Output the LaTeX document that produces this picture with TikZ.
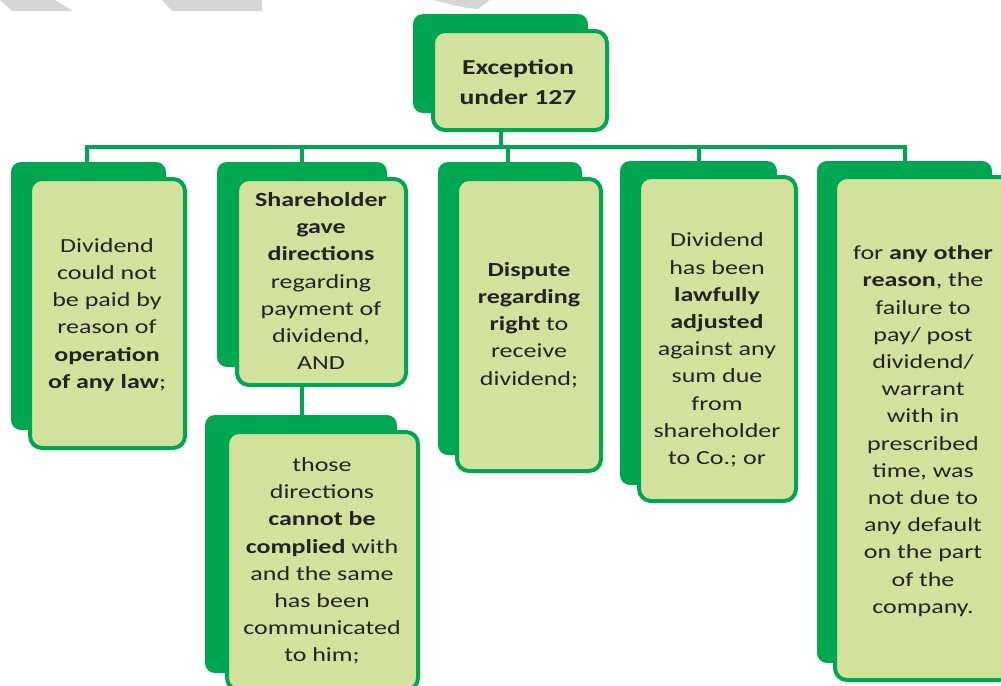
\documentclass[tikz,border=0pt]{standalone}
\usepackage{fontspec}
\setmainfont{Carlito}[FakeStretch=1.3]
\usetikzlibrary{fit}
\definecolor{dg}{RGB}{0,166,81}
\definecolor{lg}{RGB}{210,226,156}
\definecolor{txtc}{RGB}{38,34,36}
\definecolor{wm}{RGB}{214,214,214}
\tikzset{
  backbox/.style={fill=dg, draw=none, rounded corners=7.5pt, inner sep=0pt},
  frontbox/.style={fill=lg, draw=dg, line width=3pt, rounded corners=9pt, inner sep=0pt},
  boxtext/.style={align=center, text=txtc, font=\fontsize{15pt}{20.4pt}\selectfont, inner sep=0pt},
  toptext/.style={align=center, text=txtc, font=\fontsize{16pt}{23pt}\selectfont\bfseries, inner sep=0pt},
  conn/.style={draw=dg, line width=3pt},
  wmark/.style={fill=wm, draw=none},
}
\begin{document}
\begin{tikzpicture}[x=0.75pt, y=-0.75pt]
\useasboundingbox (0,0) rectangle (1001,686);
\clip (0,0) rectangle (1001,686);
% watermark fragments
\fill[wmark] (0,0) -- (55,0) -- (73,11) -- (12,11) -- cycle;
\fill[wmark] (162,0) -- (262,0) -- (262,11) -- (172,11) -- cycle;
\fill[wmark] (433,0) -- (490,0) -- (478,9) .. controls (465,8) .. (433,0) -- cycle;

% back boxes
\node[backbox, fit={(413,14) (588,113)}] (k0) {};
\node[backbox, fit={(11,162) (166,430)}] (k1) {};
\node[backbox, fit={(217,162) (387,367)}] (k2) {};
\node[backbox, fit={(205,415) (397,673)}] (k2b) {};
\node[backbox, fit={(438,162) (582,455)}] (k3) {};
\node[backbox, fit={(620,161) (777,485)}] (k4) {};
\node[backbox, fit={(817,161) (992,663)}] (k5) {};

% front boxes
\node[frontbox, fit={(433,31) (607,130)}] (f0) {};
\node[frontbox, fit={(30,179) (185,448)}] (f1) {};
\node[frontbox, fit={(237,179) (406,385)}] (f2) {};
\node[frontbox, fit={(227,432) (418,690)}] (f2b) {};
\node[frontbox, fit={(457,179) (601,471)}] (f3) {};
\node[frontbox, fit={(639,177) (796,501)}] (f4) {};
\node[frontbox, fit={(835,177) (1012,680)}] (f5) {};

% connectors
\coordinate (d0) at (501,147);
\coordinate (d1) at (87,147);
\coordinate (d2) at (302,147);
\coordinate (d3) at (508,147);
\coordinate (d4) at (699,147);
\coordinate (d5) at (905,147);
\draw[conn] (d0 |- f0.south) -- (d0);
\draw[conn] (d1 |- k1.north) -- (d1) -- (d5) -- (d5 |- k5.north);
\draw[conn] (d2) -- (d2 |- k2.north);
\draw[conn] (d3) -- (d3 |- k3.north);
\draw[conn] (d4) -- (d4 |- k4.north);
\draw[conn] (d2 |- f2.south) -- (d2 |- k2b.north);

% texts
\node[toptext] (t0) at (518,82) {Exception\\under 127};
\node[boxtext] (t1) at (107,315) {Dividend\\could not\\be paid by\\reason of\\\textbf{operation}\\\textbf{of any law};};
\node[boxtext] (t2) at (321,281) {\textbf{Shareholder}\\\textbf{gave}\\\textbf{directions}\\regarding\\payment of\\dividend,\\AND};
\node[boxtext] (t2b) at (322,561) {those\\directions\\\textbf{cannot be}\\\textbf{complied} with\\and the same\\has been\\communicated\\to him;};
\node[boxtext] (t3) at (529,325) {\textbf{Dispute}\\\textbf{regarding}\\\textbf{right} to\\receive\\dividend;};
\node[boxtext] (t4) at (717,350) {Dividend\\has been\\\textbf{lawfully}\\\textbf{adjusted}\\against any\\sum due\\from\\shareholder\\to Co.; or};
\node[boxtext] (t5) at (923,431) {for \textbf{any other}\\\textbf{reason}, the\\failure to\\pay/ post\\dividend/\\warrant\\with in\\prescribed\\time, was\\not due to\\any default\\on the part\\of the\\company.};
\end{tikzpicture}
\end{document}
